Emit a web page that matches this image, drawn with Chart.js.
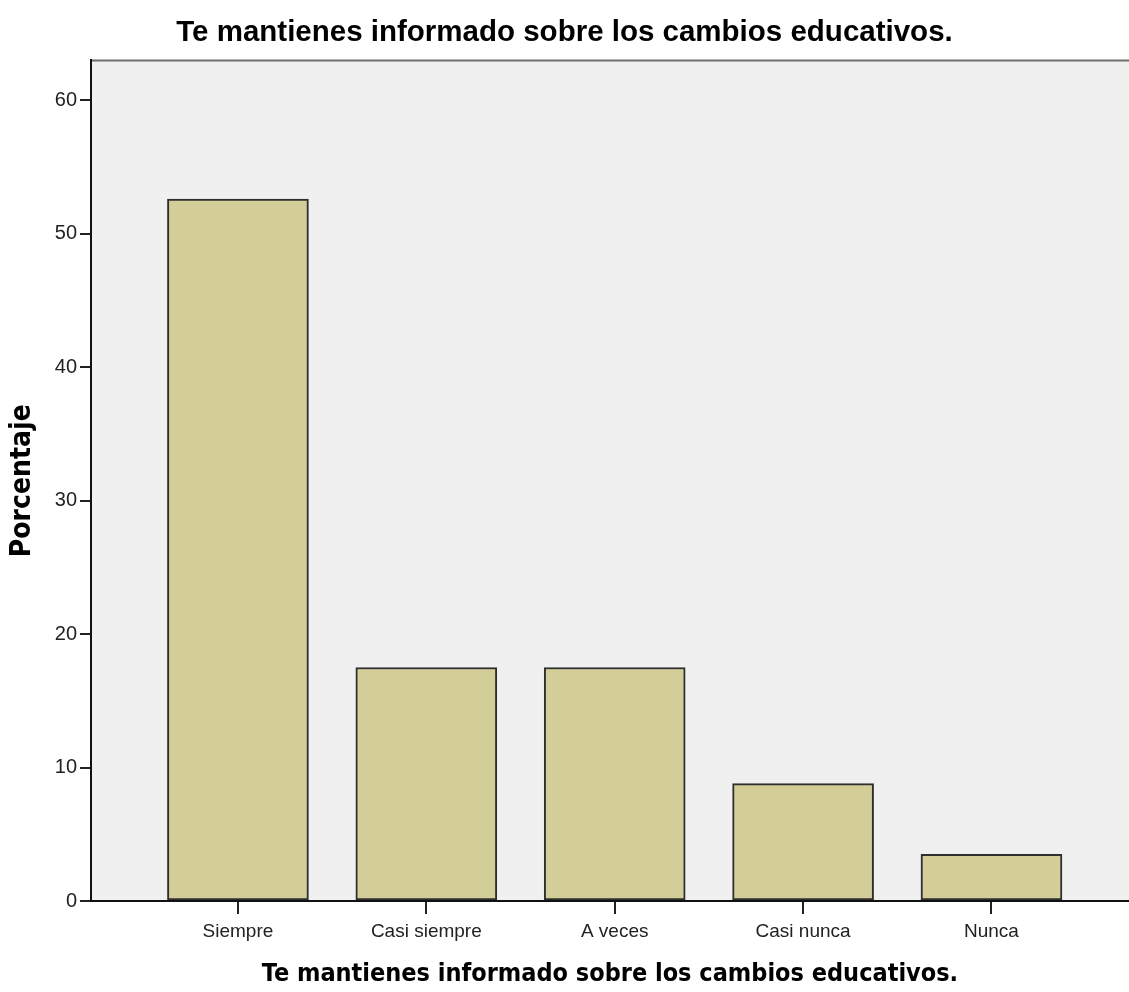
<!DOCTYPE html>
<html>
<head>
<meta charset="utf-8">
<script src="https://cdn.jsdelivr.net/npm/chart.js@4.4.1/dist/chart.umd.min.js"></script>
<style>
  html, body { margin: 0; padding: 0; background: #fff; overflow: hidden; }
  #wrap { width: 1129px; height: 992px; position: relative; }
</style>
</head>
<body>
<div id="wrap"><canvas id="myChart"></canvas></div>
<script>
// values (percent of answers)
const categories = ["Siempre", "Casi siempre", "A veces", "Casi nunca", "Nunca"];
const percentages = [52.6, 17.5, 17.5, 8.8, 3.5];
const yTicks = [0, 10, 20, 30, 40, 50, 60];
const chartTitle = "Te mantienes informado sobre los cambios educativos.";
const xTitle = "Te mantienes informado sobre los cambios educativos.";
const yTitle = "Porcentaje";

// grey plot background + top frame line
const plotFrame = {
  id: "plotFrame",
  beforeDraw(chart) {
    const { ctx, chartArea: a } = chart;
    ctx.save();
    ctx.fillStyle = "#f0f0f0";
    ctx.fillRect(a.left, a.top, a.right - a.left, a.bottom - a.top);
    ctx.strokeStyle = "#6e6e6e";
    ctx.lineWidth = 2;
    ctx.beginPath();
    ctx.moveTo(a.left, a.top);
    ctx.lineTo(a.right, a.top);
    ctx.stroke();
    ctx.restore();
  },
};

function drawChart() {
  const ctx = document.getElementById("myChart").getContext("2d");
  const points = categories.map((c, i) => ({ x: i, y: percentages[i] }));
  new Chart(ctx, {
    type: "bar",
    data: {
      datasets: [
        {
          label: yTitle,
          data: points,
          backgroundColor: "#d3ce98",
          borderColor: "#2e2e2e",
          borderWidth: 2,
          borderSkipped: false,
          barThickness: 141,
        },
      ],
    },
    options: {
      animation: false,
      responsive: true,
      maintainAspectRatio: false,
      layout: { padding: 0 },
      scales: {
        x: {
          type: "linear",
          min: -0.78,
          max: 4.73,
          offset: false,
          afterBuildTicks: (scale) => {
            scale.ticks = categories.map((c, i) => ({ value: i }));
          },
          afterFit: (scale) => { scale.height = 91; },
          ticks: {
            callback: (v) => categories[v],
            color: "#222",
            font: { family: "Liberation Sans", size: 19 },
            padding: 6,
            maxRotation: 0,
            autoSkip: false,
          },
          grid: { offset: false, drawOnChartArea: false, color: "#222", lineWidth: 2, tickLength: 13 },
          border: { color: "#111", width: 2 },
          title: {
            display: true,
            text: xTitle,
            color: "#000",
            font: { family: "DejaVu Sans Condensed, DejaVu Sans", size: 25, weight: "bold" },
            padding: { top: 0, bottom: 3 },
          },
        },
        y: {
          min: 0,
          max: 63,
          afterBuildTicks: (scale) => {
            scale.ticks = yTicks.map((v) => ({ value: v }));
          },
          afterFit: (scale) => { scale.width = 91; },
          ticks: {
            color: "#222",
            font: { family: "Liberation Sans", size: 20 },
            padding: 3,
          },
          grid: { drawOnChartArea: false, color: "#222", lineWidth: 2, tickLength: 11 },
          border: { color: "#111", width: 2 },
          title: {
            display: true,
            text: yTitle,
            color: "#000",
            font: { family: "DejaVu Sans Condensed, DejaVu Sans", size: 28, weight: "bold" },
            padding: { top: 6 },
          },
        },
      },
      plugins: {
        legend: { display: false },
        tooltip: { enabled: false },
        title: {
          display: true,
          text: chartTitle,
          color: "#000",
          font: { family: "Liberation Sans", size: 29.5, weight: "bold" },
          padding: { top: 15, bottom: 10 },
        },
      },
    },
    plugins: [plotFrame],
  });
}

drawChart();
</script>
</body>
</html>
